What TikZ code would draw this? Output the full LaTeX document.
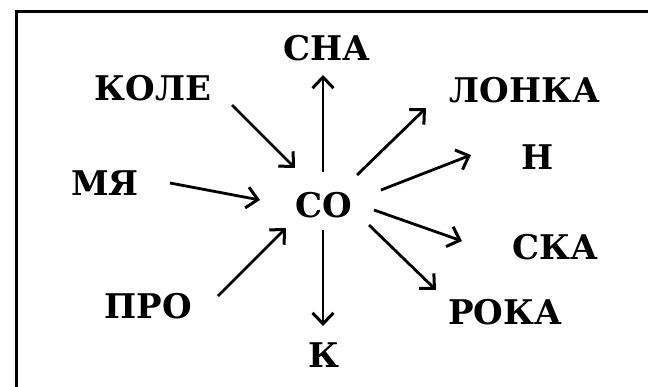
\documentclass[tikz,border=0pt]{standalone}
\usepackage{fontspec}
\setmainfont{DejaVu Serif}
\usetikzlibrary{arrows.meta,calc}
\begin{document}
\begin{tikzpicture}[x=1pt,y=-1pt,
  word/.style={inner sep=0pt,text depth=0pt,font=\bfseries\fontsize{34}{40}\selectfont},
  arr/.style={line width=2.8pt,-{Straight Barb[length=11pt,width=21pt,line width=3pt]}},
  frame/.style={line width=3pt}]
\useasboundingbox (0,0) rectangle (648,386);
\begin{scope}
\clip (0,0) rectangle (648,386);
\draw[frame] (16.5,420) -- (16.5,11) -- (700,11);
\end{scope}
\node[word] (so)   at (324,205) {СО};
\node[word] (kole) at (153,88)  {КОЛЕ};
\node[word] (mya)  at (105,183) {МЯ};
\node[word] (pro)  at (148,306) {ПРО};
\node[word] (sna)  at (327,48)  {СНА};
\node[word] (k)    at (324,355) {К};
\node[word] (lonka) at (525,90) {ЛОНКА};
\node[word] (n)    at (538,157) {Н};
\node[word] (ska)  at (555,247) {СКА};
\node[word] (roka) at (505,312) {РОКА};
\draw[arr] ($(kole.center)+(79,17)$) -- ($(so.center)+(-29,-37)$);
\draw[arr] ($(mya.center)+(65,0)$) -- ($(so.center)+(-64,-5)$);
\draw[arr] ($(pro.center)+(70,-10)$) -- ($(so.center)+(-38,23)$);
\draw[arr] ($(so.center)+(-1,-33)$) -- ($(sna.center)+(-4,27)$);
\draw[arr] ($(so.center)+(-1,25)$) -- ($(k.center)+(-1,-29)$);
\draw[arr] ($(so.center)+(33,-30)$) -- ($(lonka.center)+(-99,18)$);
\draw[arr] ($(so.center)+(57,-15)$) -- ($(n.center)+(-67,-2)$);
\draw[arr] ($(so.center)+(50,5)$) -- ($(ska.center)+(-93,-6)$);
\draw[arr] ($(so.center)+(45,20)$) -- ($(roka.center)+(-69,-22)$);
\end{tikzpicture}
\end{document}
